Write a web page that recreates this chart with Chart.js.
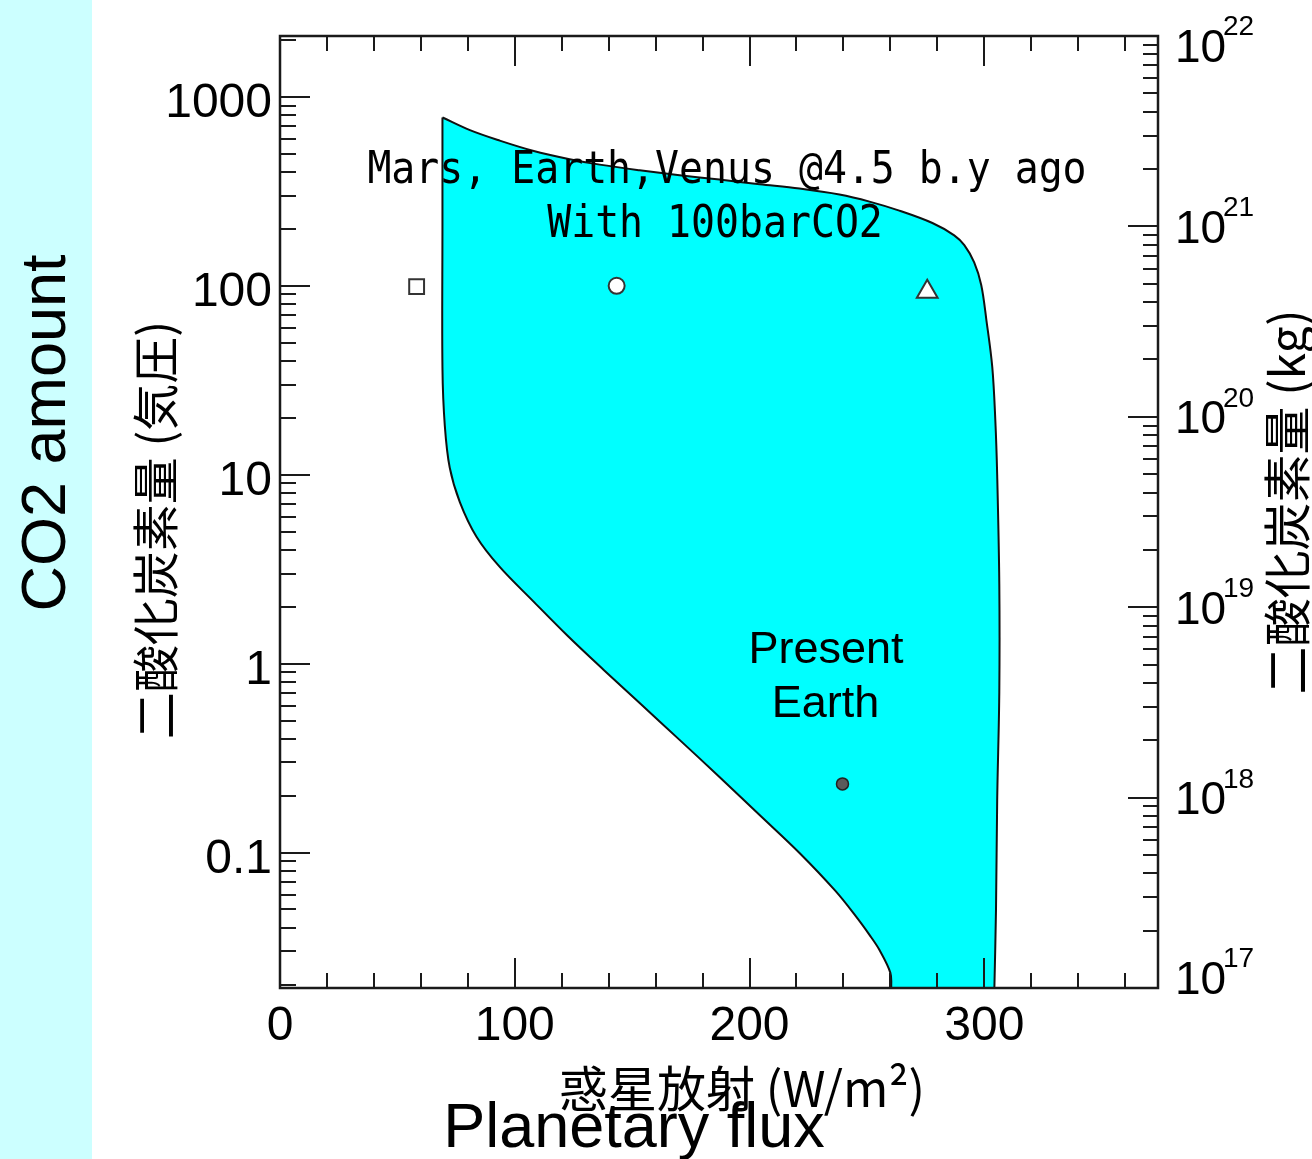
<!DOCTYPE html>
<html>
<head>
<meta charset="utf-8">
<script src="https://cdn.jsdelivr.net/npm/chart.js@4.4.1/dist/chart.umd.min.js"></script>
<style>
  html, body { margin: 0; padding: 0; background: #fff; }
  #wrap { position: relative; width: 1312px; height: 1159px; }
</style>
</head>
<body>
<div id="wrap"><canvas id="co2"></canvas></div>
<script>
// outline of the cyan region (flux W/m2, CO2 bar), clockwise from the top-left tip
// (the two bottom corners are listed twice so the curve keeps them sharp)
const regionFlux = [69.2, 80.9, 93.6, 107.7, 123.4, 136.2, 153.2, 170.2, 187.2, 204.3, 221.3, 238.3, 251.1, 263.8,
  277.9, 287.2, 291.5, 295.7, 298.7, 300.9, 303.4, 304.7, 305.5, 306.4, 306.4, 305.5, 305.0, 304.3, 304.3,
  260.4, 260.4, 260.0, 255.3, 251.1, 245.5, 236.6, 221.3, 204.3, 187.2, 170.2, 153.2, 137.9, 122.6,
  107.7, 93.6, 83.7, 76.6, 72.3, 70.2, 69.2, 69.2, 69.2];
const regionCO2 = [778, 667, 587, 519, 468, 438, 409, 385, 365, 345, 327, 304, 279, 250,
  215, 185, 164, 133, 101, 65.9, 37.2, 19.5, 9.96, 2.64, 0.708, 0.190, 0.0504, 0.0192, 0.0192,
  0.0192, 0.0192, 0.0231, 0.0306, 0.0367, 0.0457, 0.0627, 0.0996, 0.1582, 0.2515, 0.395, 0.619, 0.926, 1.40,
  2.15, 3.25, 4.70, 7.17, 10.9, 18.2, 36.7, 207, 778];

// planets 4.5 b.y. ago (square, circle, triangle) and present Earth
const planetNames = ['Mars', 'Earth', 'Venus'];
const planetFlux = [58.2, 143.4, 275.7];
const planetCO2 = [99, 100, 93];
const presentFlux = [239.6];
const presentCO2 = [0.231];

// axes
const fluxLabels = [0, 100, 200, 300];
const pressureLabels = [0.1, 1, 10, 100, 1000];
const massLabels = [1e17, 1e18, 1e19, 1e20, 1e21, 1e22];

// text in the plot, anchored in data units
const noteLines = ['Mars, Earth,Venus @4.5 b.y ago', 'With 100barCO2', 'Present', 'Earth'];
const noteFlux = [190.4, 185.3, 232.6, 232.4];
const noteCO2 = [348, 181.7, 1.005, 0.524];

const yTitle = '二酸化炭素量 (気圧)';
const y2Title = '二酸化炭素量 (kg)';
const xTitle = '惑星放射 (W/m²)';

Chart.defaults.font.family = '"Liberation Sans", Arial, sans-serif';
Chart.defaults.color = '#000';

const background = {
  id: 'background',
  beforeDraw(chart) {
    const {ctx, width, height} = chart;
    ctx.save();
    ctx.fillStyle = '#fff';
    ctx.fillRect(0, 0, width, height);
    ctx.fillStyle = '#ccffff';
    ctx.fillRect(0, 0, 92, height);
    ctx.restore();
  }
};

const frameAndTicks = {
  id: 'frameAndTicks',
  afterDatasetsDraw(chart) {
    const {ctx, chartArea: a, scales: {x, y, y2}} = chart;
    ctx.save();
    ctx.strokeStyle = '#1a1a1a';
    ctx.lineWidth = 2;
    ctx.beginPath();
    // flux ticks, bottom and top
    for (let v = 0; v <= x.max; v += 20) {
      const px = Math.round(x.getPixelForValue(v));
      const len = v % 100 === 0 ? 30 : 15;
      ctx.moveTo(px, a.bottom); ctx.lineTo(px, a.bottom - len);
      ctx.moveTo(px, a.top); ctx.lineTo(px, a.top + len);
    }
    // log ticks, left (bar) and right (kg)
    [[y, 1, 16], [y2, -1, 15]].forEach(([s, dir, minor]) => {
      const x0 = dir > 0 ? a.left : a.right;
      for (let e = Math.floor(Math.log10(s.min)); e <= Math.ceil(Math.log10(s.max)); e++) {
        for (let m = 1; m <= 9; m++) {
          const v = m * Math.pow(10, e);
          if (v < s.min * 0.999 || v > s.max * 1.001) continue;
          const py = Math.round(s.getPixelForValue(v));
          ctx.moveTo(x0, py);
          ctx.lineTo(x0 + dir * (m === 1 ? 30 : minor), py);
        }
      }
    });
    ctx.stroke();
    ctx.lineWidth = 2.5;
    ctx.strokeRect(a.left, a.top, a.right - a.left, a.bottom - a.top);
    ctx.restore();
  }
};

const textLayer = {
  id: 'textLayer',
  afterDraw(chart) {
    const {ctx, chartArea: a, scales: {x, y, y2}} = chart;
    ctx.save();
    ctx.fillStyle = '#000';

    // notes inside the plot
    noteLines.forEach((t, i) => {
      const px = x.getPixelForValue(noteFlux[i]);
      const py = y.getPixelForValue(noteCO2[i]);
      ctx.save();
      ctx.translate(px, py);
      ctx.textAlign = 'center';
      ctx.textBaseline = 'alphabetic';
      if (i < 2) {
        ctx.scale(0.905, 1);
        ctx.font = '44px "DejaVu Sans Mono"';
      } else {
        ctx.font = '45px "Liberation Sans"';
      }
      ctx.fillText(t, 0, 0);
      ctx.restore();
    });

    // right axis: 10^n
    ctx.textAlign = 'left';
    ctx.textBaseline = 'alphabetic';
    massLabels.forEach(v => {
      let cy = y2.getPixelForValue(v);
      cy = Math.min(Math.max(cy, a.top + 9), a.bottom - 11);
      ctx.font = '46px "Liberation Sans"';
      ctx.fillText('10', a.right + 17, cy + 16.5);
      ctx.font = '28px "Liberation Sans"';
      ctx.fillText(String(Math.round(Math.log10(v))), a.right + 65, cy - 10);
    });

    // axis titles
    ctx.textAlign = 'center';
    ctx.textBaseline = 'middle';
    ctx.font = '47px "Noto Sans CJK JP"';
    ctx.save();
    ctx.translate(155, 530);
    ctx.rotate(-Math.PI / 2);
    ctx.fillText(yTitle, 0, 0);
    ctx.restore();
    ctx.font = '48px "Noto Sans CJK JP"';
    ctx.save();
    ctx.translate(1287, 502);
    ctx.rotate(-Math.PI / 2);
    ctx.fillText(y2Title, 0, 0);
    ctx.restore();
    ctx.font = '49px "Noto Sans CJK JP"';
    ctx.fillText(xTitle, 742, 1088);

    ctx.textBaseline = 'alphabetic';
    ctx.font = '63px "Liberation Sans"';
    ctx.fillText('Planetary flux', 634, 1147);
    ctx.save();
    ctx.translate(65, 433);
    ctx.rotate(-Math.PI / 2);
    ctx.fillText('CO2 amount', 0, 0);
    ctx.restore();
    ctx.restore();
  }
};

new Chart(document.getElementById('co2'), {
  type: 'scatter',
  data: {
    datasets: [
      {
        label: 'Present Earth',
        data: presentFlux.map((v, i) => ({x: v, y: presentCO2[i]})),
        pointStyle: 'circle',
        pointRadius: 6,
        backgroundColor: '#5a5a5a',
        borderColor: '#222',
        borderWidth: 1.5,
        order: 0
      },
      {
        label: '4.5 b.y ago',
        data: planetFlux.map((v, i) => ({x: v, y: planetCO2[i], name: planetNames[i]})),
        pointStyle: ['rect', 'circle', 'triangle'],
        pointRadius: [10.5, 8, 12],
        backgroundColor: '#fff',
        borderColor: '#333',
        borderWidth: 2,
        order: 1
      },
      {
        label: 'region',
        data: regionFlux.map((v, i) => ({x: v, y: regionCO2[i]})),
        showLine: true,
        fill: 'shape',
        tension: 0.35,
        pointRadius: 0,
        borderColor: '#111',
        borderWidth: 2,
        backgroundColor: '#00ffff',
        order: 2
      }
    ]
  },
  options: {
    responsive: true,
    maintainAspectRatio: false,
    animation: false,
    layout: { padding: { top: 36, left: 0, right: 0, bottom: 0 } },
    plugins: {
      legend: { display: false },
      tooltip: { enabled: false }
    },
    scales: {
      x: {
        type: 'linear',
        position: 'bottom',
        min: 0,
        max: 374,
        afterBuildTicks: s => { s.ticks = fluxLabels.map(v => ({value: v})); },
        afterFit: s => { s.height = 171; },
        grid: { display: false },
        border: { display: false },
        ticks: { autoSkip: false, maxRotation: 0, padding: 2, font: { size: 48 } }
      },
      y: {
        type: 'logarithmic',
        position: 'left',
        min: 0.0192,
        max: 2100,
        afterBuildTicks: s => { s.ticks = pressureLabels.map(v => ({value: v})); },
        afterFit: s => { s.width = 280; },
        grid: { display: false },
        border: { display: false },
        ticks: { autoSkip: false, padding: 0, labelOffset: 7, font: { size: 48 }, callback: v => String(v) }
      },
      y2: {
        type: 'logarithmic',
        position: 'right',
        min: 1e17,
        max: 1e22,
        afterFit: s => { s.width = 154; },
        grid: { display: false },
        border: { display: false },
        ticks: { display: false }
      }
    }
  },
  plugins: [background, frameAndTicks, textLayer]
});
</script>
</body>
</html>
